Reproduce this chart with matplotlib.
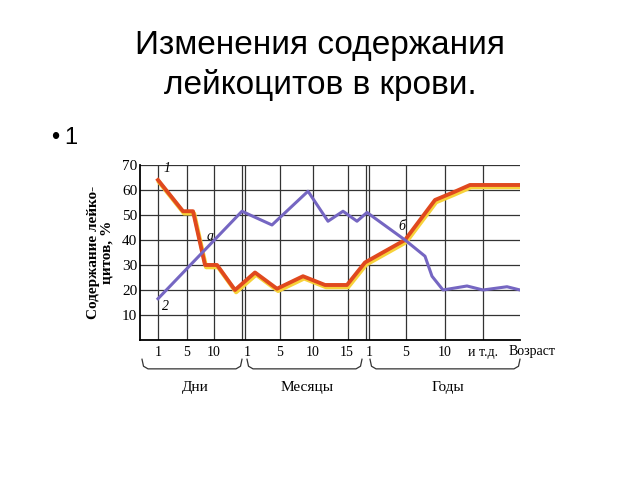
import matplotlib
matplotlib.use('Agg')
import matplotlib.pyplot as plt
import matplotlib.transforms as mtransforms

# позиции по оси возраста (условные единицы сетки)
tick_pos = [1.8, 4.7, 7.4, 10.7, 14.0, 17.3, 20.7, 22.9, 26.6, 30.5, 34.3]
tick_labels = ['1', '5', '10', '1', '5', '10', '15', '1', '5', '10', 'и т.д.']
grid_x = [1.8, 4.7, 7.4, 10.2, 10.45, 14.0, 17.3, 20.8, 22.6, 22.85, 26.6, 30.5, 34.3]
groups = ['Дни', 'Месяцы', 'Годы']
group_spans = [(0.2, 10.2), (10.7, 22.2), (23.0, 38.0)]

# кривая 1 (красная)
red_x = [1.8, 4.3, 5.3, 6.5, 7.7, 9.5, 11.5, 13.7, 16.3, 18.5, 20.7, 22.5, 26.5, 29.5, 31.3, 33.0, 38.0]
red_y = [64, 51.5, 51.5, 30, 30, 20, 27, 20.5, 25.5, 22, 22, 31, 40, 56, 59, 62, 62]

# кривая 2 (фиолетовая)
purple_x = [1.8, 10.2, 11.0, 13.2, 16.8, 18.8, 20.3, 21.7, 22.7, 26.5, 28.5, 29.2, 30.3, 32.7, 34.3, 36.7, 38.0]
purple_y = [16.5, 51.5, 50, 46, 59.5, 47.5, 51.5, 47.5, 51, 40, 33.5, 25.5, 20, 21.6, 20, 21.3, 20]

serif = 'Liberation Serif'

fig = plt.figure(figsize=(6.4, 4.8), dpi=100)
fig.text(0.5, 0.905, 'Изменения содержания', ha='center', va='center',
         fontsize=24, family='Liberation Sans')
fig.text(0.5, 0.822, 'лейкоцитов в крови.', ha='center', va='center',
         fontsize=24, family='Liberation Sans')
fig.text(0.087, 0.712, '•', ha='center', va='center', fontsize=17, family='Liberation Sans')
fig.text(0.111, 0.712, '1', ha='center', va='center', fontsize=17, family='Liberation Sans')

ax = fig.add_axes([0.21875, 0.2917, 0.59375, 0.3646])
ax.set_xlim(0, 38)
ax.set_ylim(0, 70)

for y in range(10, 71, 10):
    ax.axhline(y, color='#333333', lw=0.9)
for x in grid_x:
    ax.axvline(x, color='#333333', lw=0.9)

# жёлтая тень под красной линией
shadow = mtransforms.offset_copy(ax.transData, fig=fig, x=0.8, y=-1.6, units='points')
ax.plot(red_x, red_y, color='#f7d23a', lw=3.0, transform=shadow, solid_joinstyle='round')
ax.plot(red_x, red_y, color='#e0491e', lw=2.8, solid_joinstyle='round')
ax.plot(purple_x, purple_y, color='#7566c2', lw=2.2, solid_joinstyle='round')

ax.text(2.3, 67, '1', fontsize=10, style='italic', family=serif)
ax.text(2.2, 12, '2', fontsize=10, style='italic', family=serif)
ax.text(6.7, 40, 'а', fontsize=10, style='italic', family=serif)
ax.text(25.8, 44, 'б', fontsize=10, style='italic', family=serif)

ax.spines['top'].set_visible(False)
ax.spines['right'].set_visible(False)
ax.spines['left'].set_linewidth(1.3)
ax.spines['bottom'].set_linewidth(1.3)

ax.set_yticks(range(10, 71, 10))
ax.set_yticklabels([str(v) for v in range(10, 71, 10)], family=serif, fontsize=11)
ax.set_xticks(tick_pos)
ax.set_xticklabels(tick_labels, family=serif, fontsize=10)
ax.tick_params(length=0)
ax.tick_params(axis='x', pad=4)
ax.tick_params(axis='y', pad=2)

trans = mtransforms.blended_transform_factory(ax.transData, ax.transAxes)
ax.text(39.2, -0.065, 'Возраст', transform=trans, ha='center', va='center',
        family=serif, fontsize=10, clip_on=False)

# фигурные скобки под группами
for name, (x0, x1) in zip(groups, group_spans):
    bx = [x0, x0 + 0.15, x0 + 0.6, x1 - 0.6, x1 - 0.15, x1]
    by = [-0.11, -0.15, -0.165, -0.165, -0.15, -0.11]
    ax.plot(bx, by, color='#333333', lw=0.9, transform=trans, clip_on=False)
    ax.text((x0 + x1) / 2 + 0.3, -0.27, name, transform=trans, ha='center', va='center',
            family=serif, fontsize=11, clip_on=False)

fig.text(0.157, 0.475, 'Содержание лейко-\nцитов, %', rotation=90, ha='center', va='center',
         family=serif, fontsize=11, fontweight='bold', linespacing=1.0)

fig.savefig('out.png', dpi=100)
